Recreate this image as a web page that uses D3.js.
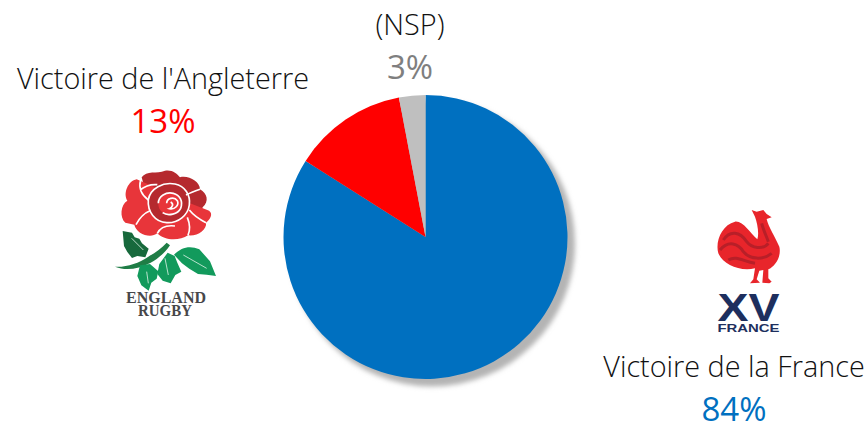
<!DOCTYPE html>
<html><head><meta charset="utf-8">
<script src="https://cdn.jsdelivr.net/npm/d3@7"></script>
<style>html,body{margin:0;padding:0;background:#fff}svg{display:block}</style>
</head><body><svg id="c" width="868" height="423"></svg>
<script>
const categories = ["Victoire de la France","Victoire de l'Angleterre","(NSP)"];
const values = [84,13,3];
const colors = ["#0070C0","#FF0000","#BFBFBF"];
const labelColors = ["#0070C0","#FF0000","#7F7F7F"];
const labelX = [734,163,410];
const nameY = [377,89,35];
const pctY = [421,133,79];

const svg = d3.select("#c");
const defs = svg.append("defs");
const f = defs.append("filter").attr("id","sh").attr("x","-20%").attr("y","-20%").attr("width","140%").attr("height","140%");
f.append("feGaussianBlur").attr("stdDeviation",2.4);

const cx=425.5, cy=237, R=142;
svg.append("circle").attr("cx",cx+6.5).attr("cy",cy+6.5).attr("r",R+1).attr("fill","#b4b4b4").attr("filter","url(#sh)");
const pie=d3.pie().sort(null).value(d=>d);
const arc=d3.arc().innerRadius(0).outerRadius(R);
svg.append("g").attr("transform",`translate(${cx},${cy})`).selectAll("path").data(pie(values)).join("path")
  .attr("d",arc).attr("fill",(d,i)=>colors[i]);

categories.forEach((c,i)=>{
  svg.append("text").attr("x",labelX[i]).attr("y",nameY[i]).attr("text-anchor","middle")
    .style("font-family","'Open Sans',sans-serif").attr("font-size",28.8).attr("font-weight",300).attr("fill","#111").text(c);
  svg.append("text").attr("x",labelX[i]).attr("y",pctY[i]).attr("text-anchor","middle")
    .style("font-family","'Open Sans',sans-serif").attr("font-size",33).attr("fill",labelColors[i]).text(values[i]+"%");
});

// England rose emblem, drawn in a 3x space
const e=svg.append("g").attr("transform","translate(100,160) scale(0.3333)");
const P=(g,d,fill)=>g.append("path").attr("d",d).attr("fill",fill);
P(e,"M45 320 C80 322 115 310 145 290 C165 278 185 265 200 248 L210 256 C192 282 172 297 152 308 C115 326 80 334 45 320Z","#1f7d46");
P(e,"M68 213 L96 218 L104 232 L118 236 L126 250 L146 266 L136 292 L112 288 L96 294 L82 276 L72 258 Z","#17693c");
P(e,"M203 278 L224 288 L232 308 L244 335 L226 345 L212 370 L188 362 L172 342 L178 312 Z","#129a5c");
P(e,"M120 316 L150 312 L175 334 L170 356 L154 368 L146 392 L124 376 L112 348 Z","#129a5c");
P(e,"M222 284 C245 260 272 256 298 268 L316 288 L330 304 L348 348 L320 344 L294 342 L268 326 L246 310 Z","#129a5c");
P(e,"M125 52 C140 30 170 42 195 32 C215 28 232 40 240 52 C265 45 300 65 300 88 C322 100 328 125 308 142 L300 165 L150 145 Z","#b5292e");
P(e,"M110 58 C85 62 68 100 82 122 C62 134 58 172 76 188 L103 194 C108 220 150 238 172 220 C195 244 240 242 264 226 C292 230 322 208 318 188 C338 172 338 155 322 150 L220 110 L150 75 Z","#e8353a");
P(e,"M145 120 C150 85 190 65 225 72 C255 78 272 105 268 135 C264 165 235 190 200 188 C165 186 142 155 145 120Z","#b5292e");
e.append("path").attr("d","M145 120 C150 85 190 65 225 72 C255 78 272 105 268 135 C264 165 235 190 200 188 C165 186 142 155 145 120Z").attr("fill","none").attr("stroke","#fff").attr("stroke-width",5);
P(e,"M175 130 C175 108 198 95 220 100 C240 105 250 125 242 145 C234 162 205 170 188 158 C178 150 175 142 175 130Z","#e8353a");
e.append("path").attr("d","M175 130 C175 108 198 95 220 100 C240 105 250 125 242 145 C234 162 205 170 188 158 M200 130 C200 115 222 108 232 122 C238 135 225 150 208 146 C218 142 222 132 212 126").attr("fill","none").attr("stroke","#fff").attr("stroke-width",5);
e.append("path").attr("d","M122 60 C115 85 125 105 145 120 M108 194 C120 170 135 158 150 152 M172 220 C182 200 200 195 225 198 M264 226 C272 208 270 192 262 172 M120 90 C135 78 150 72 172 74 M300 88 C280 95 268 100 258 105 M318 188 C298 178 280 165 268 150").attr("fill","none").attr("stroke","#fff").attr("stroke-width",5);
e.append("path").attr("d","M95 235 L130 270 M195 295 L205 345 M140 335 L145 370 M250 285 L320 325").attr("fill","none").attr("stroke","#d9efe2").attr("stroke-width",2.5);
const logoFont=(t,fam,x,y,size,len,fill,g)=>g.append("text").attr("x",x).attr("y",y).attr("text-anchor","middle").style("font-family",fam).style("font-weight",700).attr("font-size",size).attr("textLength",len).attr("lengthAdjust","spacingAndGlyphs").attr("fill",fill).text(t);
const lg=svg.append("g");
logoFont("ENGLAND","'Liberation Serif'",166,303,16.5,80,"#47474a",lg);
logoFont("RUGBY","'Liberation Serif'",165,315.5,16.5,54,"#47474a",lg);

// French rooster emblem, drawn in a 3x space
const r=svg.append("g").attr("transform","translate(700,200) scale(0.3333)");
P(r,"M155 30 L170 35 L190 30 L200 42 L215 52 L200 57 C205 80 225 110 238 140 C245 170 225 200 205 208 L205 235 L215 245 L208 250 L187 248 L190 210 L178 212 L170 238 L180 248 L150 250 L160 238 L165 205 C120 215 70 195 55 160 C45 125 65 75 105 65 C130 62 150 100 172 118 C178 100 172 70 165 50 Z","#e8252b");
r.append("path").attr("d","M70 120 C90 90 120 95 140 125 C155 145 190 150 205 130 M60 150 C85 120 115 130 130 155 C150 180 190 180 215 160 M85 180 C110 165 130 185 165 190 M185 70 C190 90 200 110 205 125").attr("fill","none").attr("stroke","#b81f28").attr("stroke-width",9);
const fr=svg.append("g");
logoFont("XV","'Liberation Sans'",748.5,320.5,38,62,"#1d2f5e",fr);
logoFont("FRANCE","'Liberation Sans'",748.5,332,11,62,"#1d2f5e",fr);
</script></body></html>
